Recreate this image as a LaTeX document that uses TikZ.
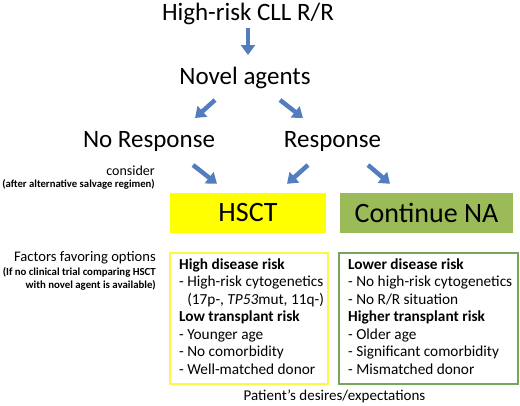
\documentclass[tikz,border=0pt]{standalone}
\usepackage{fontspec}
\setmainfont{Carlito}
\usetikzlibrary{arrows.meta}

\definecolor{arrowblue}{RGB}{84,125,192}
\definecolor{hsctyellow}{RGB}{255,255,0}
\definecolor{nagreen}{RGB}{155,187,89}
\definecolor{edgeyellow}{RGB}{250,250,70}
\definecolor{edgegreen}{RGB}{118,166,92}

\tikzset{
    bigtext/.style={inner sep=0pt,font=\fontsize{25}{30}\selectfont},
    choice/.style={inner sep=0pt,minimum height=40pt,font=\fontsize{28}{32}\selectfont},
    sidenote/.style={inner sep=0pt,anchor=base east},
    boxtext/.style={inner sep=0pt,anchor=base west,font=\fontsize{15.3}{17.5}\selectfont},
    factorbox/.style={draw,line width=2pt,minimum height=131pt},
    flow/.style={draw=arrowblue,line width=4.5pt,-{Triangle[width=14pt,length=10pt]}}
}

\begin{document}
\begin{tikzpicture}[x=1pt,y=-1pt]
        \useasboundingbox (0,0) rectangle (520,405);
        % top of the tree
        \node[bigtext,anchor=base] (cll) at (248,20) {High-risk CLL R/R};
        \node[bigtext,anchor=base] (novel) at (245,84) {Novel agents};
        \node[bigtext,anchor=base] (noresp) at (149,147) {No Response};
        \node[bigtext,anchor=base] (resp) at (332.5,147) {Response};
        \node[sidenote,font=\fontsize{14}{16}\selectfont] (consider) at (155,175) {consider};
        \node[sidenote,font=\bfseries\fontsize{10.7}{12}\selectfont] (salvage) at (155,187) {(after alternative salvage regimen)};
        % the two options
        \node[choice,fill=hsctyellow,minimum width=156pt] (hsct) at (248,213) {HSCT};
        \node[choice,fill=nagreen,minimum width=173pt] (contna) at (426.5,213) {Continue NA};
        \draw[flow] ([yshift=-8pt]cll.base) -- ([xshift=3pt,yshift=29pt]novel.base);
        \draw[flow] ([xshift=-30pt,yshift=-16pt]novel.base) -- ([xshift=46pt,yshift=29pt]noresp.base);
        \draw[flow] ([xshift=35pt,yshift=-16pt]novel.base) -- ([xshift=-29.5pt,yshift=29pt]resp.base);
        \draw[flow] ([xshift=44pt,yshift=-18pt]noresp.base) -- ([xshift=-31pt,yshift=9pt]hsct.north);
        \draw[flow] ([xshift=-24.5pt,yshift=-18pt]resp.base) -- ([xshift=39pt,yshift=9pt]hsct.north);
        \draw[flow] ([xshift=35.5pt,yshift=-18pt]resp.base) -- ([xshift=-36.5pt,yshift=9pt]contna.north);
        % factors
        \node[sidenote,font=\fontsize{14.6}{16}\selectfont] (factors) at (156,261) {Factors favoring options};
        \node[sidenote,font=\bfseries\fontsize{10.8}{12}\selectfont] (trial) at (156,275) {(If no clinical trial comparing HSCT};
        \node[sidenote,font=\bfseries\fontsize{10.8}{12}\selectfont] (avail) at (156,288) {with novel agent is available)};
        \node[factorbox,draw=edgeyellow,minimum width=158pt] (hsctbox) at (249,318.5) {};
        \node[factorbox,draw=edgegreen,minimum width=179pt] (nabox) at (428.5,318.5) {};
        \foreach \txt [count=\i] in {\textbf{High disease risk},- High-risk cytogenetics,
                {\hphantom{- }(17p-, \textit{TP53}mut, 11q-)},\textbf{Low transplant risk},
                - Younger age,- No comorbidity,- Well-matched donor}
            \node[boxtext] (hs-\i) at (179,251.5+17.5*\i) {\txt};
        \foreach \txt [count=\i] in {\textbf{Lower disease risk},- No high-risk cytogenetics,
                - No R/R situation,\textbf{Higher transplant risk},
                - Older age,- Significant comorbidity,- Mismatched donor}
            \node[boxtext] (na-\i) at (348,251.5+17.5*\i) {\txt};
        \node[inner sep=0pt,anchor=base,font=\fontsize{15}{17.5}\selectfont] (wish) at (334.5,400) {Patient’s desires/expectations};
\end{tikzpicture}
\end{document}
